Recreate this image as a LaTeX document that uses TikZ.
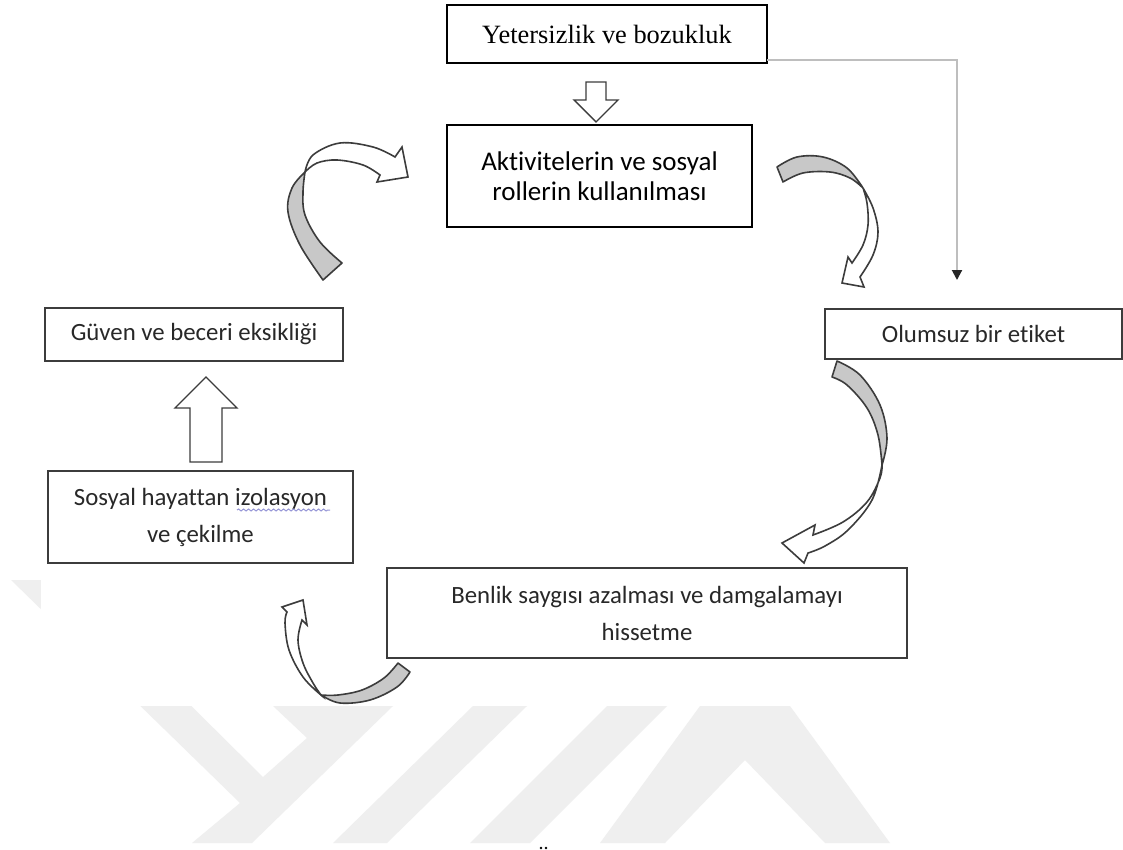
\documentclass[tikz,border=0pt]{standalone}
\usepackage{fontspec}
\newfontfamily\tnrfont{Liberation Serif}
\newfontfamily\calfont[Ligatures=NoCommon]{Carlito}
\usetikzlibrary{arrows.meta,calc,decorations.pathmorphing}
\definecolor{wm}{RGB}{239,239,239}
\definecolor{boxgray}{RGB}{60,60,60}
\definecolor{txtgray}{RGB}{40,40,40}
\definecolor{ribbon}{RGB}{200,200,200}
\definecolor{conn}{RGB}{190,190,190}
\definecolor{spell}{RGB}{150,150,215}
\begin{document}
\begin{tikzpicture}[x=0.5pt,y=-0.5pt,
  topbox/.style={draw=black,line width=1pt,inner sep=0pt,outer sep=0pt,align=center},
  lowbox/.style={draw=boxgray,line width=1.2pt,inner sep=0pt,outer sep=0pt,align=center,text=txtgray,font=\calfont\fontsize{12.4}{18.5}\selectfont},
  blockarrow/.style={draw=boxgray,line width=0.7pt,fill=white,line join=miter},
  backband/.style={draw=boxgray,line width=0.8pt,fill=ribbon,line join=round},
  frontband/.style={draw=boxgray,line width=0.8pt,fill=white,line join=miter},
  wmark/.style={fill=wm},
  conline/.style={draw=conn,line width=1pt,-{Triangle[width=5pt,length=5pt,color=black!85]}},
  spellline/.style={draw=spell,line width=0.5pt,decorate,decoration={snake,amplitude=0.5pt,segment length=2.5pt}}
]
\useasboundingbox (0,0) rectangle (1123,850);
\fill[white] (0,0) rectangle (1123,850);
% watermark
\fill[wmark] (11,580) -- (64,580) -- (263,777) -- (307,738) -- (273,706) -- (393,706) -- (252,843) -- (192,843) -- (240,803) -- cycle;
\fill[wmark] (473,706) -- (527,706) -- (387,843) -- (333,843) -- cycle;
\fill[wmark] (607,706) -- (667,706) -- (530,843) -- (470,843) -- cycle;
\fill[wmark] (600,843) -- (700,706) -- (790,706) -- (890,843) -- (825,843) -- (745,760) -- (665,843) -- cycle;
\fill[white] (41,0) rectangle (1123,706);
\fill[black] (541,848) circle (0.7pt);
\fill[black] (546,848) circle (0.7pt);
% boxes
\node[topbox,minimum width=160pt,minimum height=29pt,font=\tnrfont\fontsize{13.2}{16}\selectfont] (b1) at (607,34) {Yetersizlik ve bozukluk};
\node[topbox,minimum width=152.5pt,minimum height=51pt,font=\calfont\fontsize{13.5}{15}\selectfont] (b2) at (599.5,176) {Aktivitelerin ve sosyal\\rollerin kullanılması};
\node[lowbox,minimum width=148.5pt,minimum height=25pt] (b3) at (973.5,334) {Olumsuz bir etiket};
\node[lowbox,minimum width=149pt,minimum height=26.5pt] (b4) at (194,334.5) {Güven ve beceri eksikliği};
\node[lowbox,minimum width=152.5pt,minimum height=46pt] (b5) at (200.5,517) {Sosyal hayattan izolasyon\\ve çekilme};
\node[lowbox,minimum width=260pt,minimum height=45pt] (b6) at (647,613) {Benlik saygısı azalması ve damgalamayı\\hissetme};
\draw[spellline] (237,510) -- (330,510);
% block arrows
\draw[blockarrow] (586,82) -- (606,82) -- (606,100) -- (618,100) -- (596,122) -- (574,100) -- (586,100) -- cycle;
\draw[blockarrow] (190,462) -- (222,462) -- (222,408) -- (237,408) -- (206,377) -- (175,408) -- (190,408) -- cycle;
% connector
\coordinate (lbl) at (957,280);
\draw[conline] ($(b1.south east)+(0,-3)$) -| (lbl);
% curved arrow A
\filldraw[backband] plot[smooth,tension=0.6] coordinates {(323,280) (300,245) (288,212) (292,188) (305,172)} -- plot[smooth,tension=0.6] coordinates {(305,172) (303,192) (305,215) (320,242) (342,263)} -- cycle;
\filldraw[frontband] plot[smooth,tension=0.6] coordinates {(305,172) (313,155) (340,143) (373,147) (395,157)} -- (402,147) -- (408,177) -- (377,182) -- plot[smooth,tension=0.6] coordinates {(380,175) (363,165) (337,160) (317,163) (305,172)} -- cycle;
% curved arrow B
\filldraw[backband] plot[smooth,tension=0.6] coordinates {(777,167) (797,157) (823,157) (847,168) (863,188)} -- plot[smooth,tension=0.6] coordinates {(863,188) (850,178) (830,172) (803,173) (783,182)} -- cycle;
\filldraw[frontband] plot[smooth,tension=0.6] coordinates {(863,188) (873,208) (878,232) (873,255) (860,277)} -- (864,287) -- (842,283) -- (848,257) -- plot[smooth,tension=0.6] coordinates {(852,263) (863,245) (868,225) (867,203) (863,188)} -- cycle;
% curved arrow C
\filldraw[backband] plot[smooth,tension=0.6] coordinates {(837,361) (860,375) (880,405) (887,438) (882,465)} -- plot[smooth,tension=0.6] coordinates {(882,465) (878,435) (867,408) (847,385) (832,377)} -- cycle;
\filldraw[frontband] plot[smooth,tension=0.6] coordinates {(882,465) (872,500) (848,530) (825,546) (808,553)} -- (804,563) -- (782,543) -- (815,525) -- plot[smooth,tension=0.6] coordinates {(813,535) (843,522) (867,502) (880,478) (882,465)} -- cycle;
% curved arrow D
\filldraw[backband] plot[smooth,tension=0.6] coordinates {(410,672) (397,687) (370,700) (340,703) (321,695)} -- plot[smooth,tension=0.6] coordinates {(321,695) (338,695) (362,690) (384,678) (398,663)} -- cycle;
\filldraw[frontband] plot[smooth,tension=0.6] coordinates {(321,695) (303,677) (289,650) (285,623) (287,612)} -- (282,607) -- (303,600) -- (307,625) -- plot[smooth,tension=0.6] coordinates {(302,620) (298,640) (303,663) (313,683) (321,695)} -- cycle;
\end{tikzpicture}
\end{document}
